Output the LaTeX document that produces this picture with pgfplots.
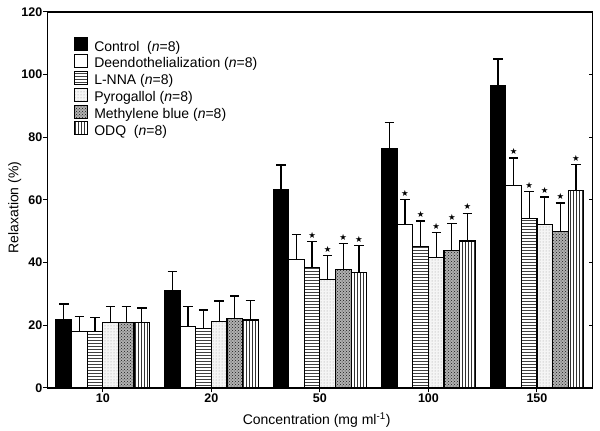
\documentclass[border=0pt]{standalone}
\usepackage{fontspec}
\setmainfont{Liberation Sans}
\newfontfamily\dejavu{DejaVu Sans}
\usepackage{pgfplots}
\pgfplotsset{compat=1.18}
\usepackage{pgfplotstable}
\usetikzlibrary{patterns}

\pgfplotstableread{
x c ce d de l le p pe m me o oe
0 21.8 5.0 18.0 4.9 18.0 4.6 21.0 4.9 21.0 5.1 21.0 4.5
1 31.1 6.0 19.7 6.4 19.1 5.8 21.1 6.7 22.2 7.2 21.7 6.3
2 63.4 7.8 41.1 8.0 38.5 8.2 34.5 7.8 37.7 8.4 37.0 8.5
3 76.5 8.2 52.1 8.1 45.1 8.2 41.7 8.0 43.8 8.6 46.9 8.9
4 96.6 8.4 64.7 8.7 54.0 8.8 52.1 8.9 50.0 9.0 62.9 8.4
}\data

\pgfplotstableread{
x y
1.9282 48.7
2.0718 44.3
2.2155 48.1
2.3590 47.5
2.7845 62.2
2.9282 55.3
3.0718 51.7
3.2155 54.4
3.3590 57.8
3.7845 75.4
3.9282 64.8
4.0718 63.0
4.2155 61.0
4.3590 73.3
}\stars

\pgfplotsset{
  common/.style={at={(0,0)}, anchor=south west,
    scale only axis, width=544.8pt, height=376pt,
    xmin=-0.51, xmax=4.51, ymin=0, ymax=120},
}

\begin{document}
\begin{tikzpicture}
\path[use as bounding box] (-47.5pt,-43pt) rectangle (552.5pt,388pt);
\begin{axis}[
  common,
  ybar=0pt, bar width=15.6pt,
  xtick={0,1,2,3,4}, xticklabels={10,20,50,100,150},
  ytick={0,20,40,60,80,100,120},
  xtick pos=bottom, ytick pos=left,
  tick align=outside, major tick length=4.5pt,
  tick style={line width=1pt, black},
  axis line style={line width=1.1pt},
  /pgf/number format/assume math mode=true,
  tick label style={font=\fontsize{12.5}{14}\selectfont\bfseries},
  yticklabel style={inner sep=0.5pt},
  xticklabel style={inner sep=1pt},
  xlabel={Concentration (mg ml\textsuperscript{-1})},
  ylabel={Relaxation (\%)},
  label style={font=\fontsize{14}{16}\selectfont},
  xlabel style={at={(axis description cs:0.494,-0.085)}, anchor=center},
  ylabel style={at={(axis description cs:-0.06,0.48)}, anchor=center},
  legend style={at={(0.0486,0.933)}, anchor=north west, draw=none, fill=none,
    inner sep=0pt, row sep=0pt, column sep=0pt,
    font=\fontsize{14}{16}\selectfont,
    nodes={inner sep=0pt, text height=9.5pt, text depth=3pt}},
  legend cell align=left,
  legend image code/.code={\draw[#1] (0pt,-3pt) rectangle (13pt,10pt);},
  /tikz/every odd column/.append style={column sep=6pt},
  every axis plot/.append style={draw=black, line width=1.1pt},
  error bars/y dir=plus, error bars/y explicit,
  error bars/error mark=|,
  error bars/error bar style={line width=1.3pt, black, solid},
  error bars/error mark options={black, line width=1.3pt, mark size=4.7pt},
]
\addplot[fill=black] table[x=x, y=c, y error=ce] {\data};
\addlegendentry{Control\ \ (\textit{n}=8)}
\addplot[fill=white] table[x=x, y=d, y error=de] {\data};
\addlegendentry{Deendothelialization (\textit{n}=8)}
\addplot[pattern=horizontal lines, pattern color=black!75] table[x=x, y=l, y error=le] {\data};
\addlegendentry{L-NNA (\textit{n}=8)}
\addplot[fill=gray!8, postaction={pattern=dots, pattern color=gray!80}] table[x=x, y=p, y error=pe] {\data};
\addlegendentry{Pyrogallol (\textit{n}=8)}
\addplot[fill=gray!62, postaction={pattern=crosshatch dots, pattern color=black!90}] table[x=x, y=m, y error=me] {\data};
\addlegendentry{Methylene blue (\textit{n}=8)}
\addplot[pattern=vertical lines, pattern color=black!80] table[x=x, y=o, y error=oe] {\data};
\addlegendentry{ODQ\ \ (\textit{n}=8)}
\end{axis}
\begin{axis}[
  common, hide axis,
]
\addplot[only marks, mark=text, text mark={\dejavu\fontsize{8.5}{9}\selectfont ★}] table[x=x, y=y] {\stars};
\end{axis}
\begin{axis}[
  common,
  hide x axis, axis y line*=right,
  axis line style={line width=1.1pt, -},
  ytick={0,20,40,60,80,100,120}, yticklabels={},
  tick align=inside, major tick length=3pt,
  tick style={line width=1pt, black},
]
\end{axis}
\end{tikzpicture}
\end{document}
